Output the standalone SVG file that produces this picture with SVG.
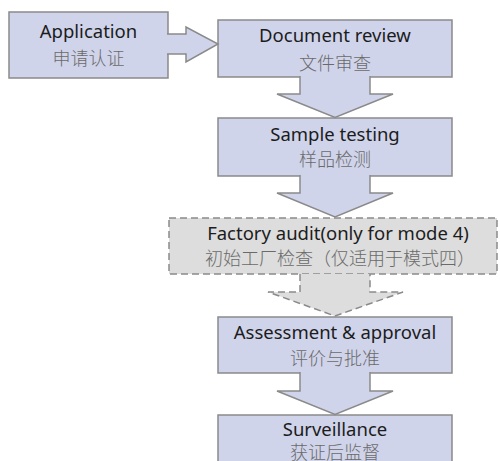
<svg xmlns="http://www.w3.org/2000/svg" width="500" height="461" viewBox="0 0 500 461">
<style>
.box{fill:#d0d4eb;stroke:#8a8a8a;stroke-width:1.5}
.dbox{fill:#dcdddc;stroke:#8a8a8a;stroke-width:1.5;stroke-dasharray:7 4}
.arr{fill:#d0d4eb;stroke:#8a8a8a;stroke-width:1.5;stroke-linejoin:miter}
.darr{fill:#dcdddc;stroke:#8a8a8a;stroke-width:1.5;stroke-dasharray:7 4}
.en{font-family:"Noto Sans","Noto Sans CJK SC",sans-serif;font-size:18.5px;fill:#1c1c1c;text-anchor:middle}
.zh{font-family:"Noto Sans CJK SC","Noto Sans",sans-serif;font-size:18px;font-weight:300;fill:#6a6a6a;text-anchor:middle}
</style>
<rect width="500" height="461" fill="#ffffff"/>
<g id="application">
<rect class="box" x="9" y="12" width="159" height="66"/>
<text class="en" x="88.5" y="38">Application</text>
<text class="zh" x="88.5" y="65">申请认证</text>
</g>
<g id="document-review">
<rect class="box" x="218" y="20" width="234" height="57"/>
<text class="en" x="335" y="42">Document review</text>
<text class="zh" x="335" y="70">文件审查</text>
</g>
<g id="sample-testing">
<rect class="box" x="218" y="118" width="234" height="58"/>
<text class="en" x="335" y="141">Sample testing</text>
<text class="zh" x="335" y="166">样品检测</text>
</g>
<g id="factory-audit">
<rect class="dbox" x="169" y="218" width="328" height="56"/>
<text class="en" x="338" y="240">Factory audit(only for mode 4)</text>
<text class="zh" x="340" y="265">初始工厂检查（仅适用于模式四）</text>
</g>
<g id="assessment">
<rect class="box" x="218" y="317" width="234" height="56"/>
<text class="en" x="335" y="339">Assessment &amp; approval</text>
<text class="zh" x="335" y="365">评价与批准</text>
</g>
<g id="surveillance">
<rect class="box" x="218" y="415" width="234" height="58"/>
<text class="en" x="335" y="436">Surveillance</text>
<text class="zh" x="335" y="459">获证后监督</text>
</g>
<g id="connectors">
<path class="arr" d="M167,34 H186 V27 L218,44 L186,62 V54 H167"/>
<path class="arr" d="M300,76 V94 H277 L335,117.5 L393,94 H370 V76"/>
<path class="arr" d="M300,175 V193 H277 L335,217 L393,193 H370 V175"/>
<path class="darr" d="M300,274 V292 H268 L335,316 L403,292 H370 V274"/>
<path class="arr" d="M300,372 V391 H277 L335,414.5 L393,391 H370 V372"/>
</g>
</svg>
